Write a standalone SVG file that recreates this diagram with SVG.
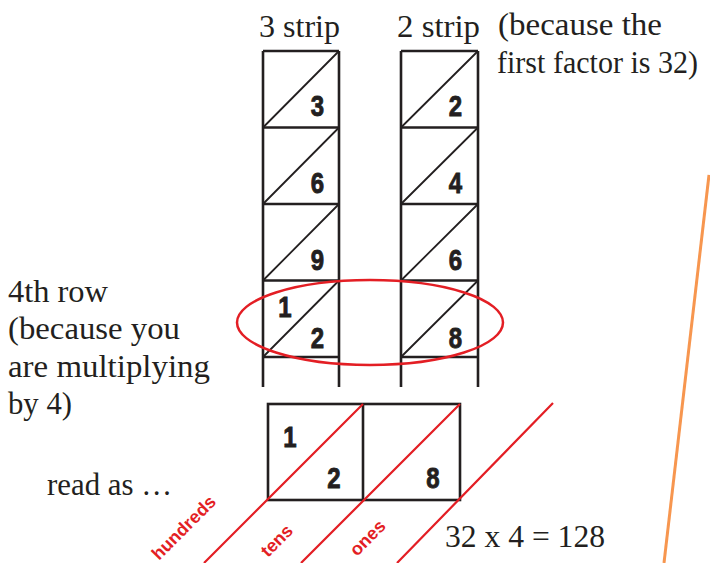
<svg xmlns="http://www.w3.org/2000/svg" width="710" height="563" viewBox="0 0 710 563">
<style>
.ser{font-family:"Liberation Serif","Times New Roman",serif;font-size:32px;fill:#231f20}
.dig{font-family:"Liberation Sans",Arial,sans-serif;font-weight:bold;font-size:30px;fill:#231f20;stroke:#231f20;stroke-width:0.9;text-anchor:middle}
.box{fill:none;stroke:#231f20;stroke-width:2.6}
.diag{stroke:#231f20;stroke-width:1.8;fill:none}
.red{stroke:#e31e24;stroke-width:2.2;fill:none}
.lab{font-family:"Liberation Sans",Arial,sans-serif;font-weight:bold;font-size:18px;fill:#e31e24}
</style>
<rect width="710" height="563" fill="#fff"/>
<g id="labels-top">
<text class="ser" x="259" y="37" textLength="81" lengthAdjust="spacingAndGlyphs">3 strip</text>
<text class="ser" x="397" y="37" textLength="83" lengthAdjust="spacingAndGlyphs">2 strip</text>
<text class="ser" x="498" y="35" textLength="164" lengthAdjust="spacingAndGlyphs">(because the</text>
<text class="ser" x="497" y="73" textLength="201" lengthAdjust="spacingAndGlyphs">first factor is 32)</text>
</g>
<g id="strip3">
<path class="box" d="M263,51V387M339,51V387M263,51H339M263,127.5H339M263,204H339M263,280.5H339M263,357H339"/>
<path class="diag" d="M263,127.5L339,51M263,204L339,127.5M263,280.5L339,204M263,357L339,280.5"/>
<g transform="translate(317.5,0) scale(0.8,1)"><text class="dig" x="0" y="116">3</text><text class="dig" x="0" y="193">6</text><text class="dig" x="0" y="270">9</text><text class="dig" x="0" y="348">2</text></g>
<g transform="translate(285,0) scale(0.8,1)"><text class="dig" x="0" y="317">1</text></g>
</g>
<g id="strip2">
<path class="box" d="M401,51V387M478,51V387M401,51H478M401,127.5H478M401,204H478M401,280.5H478M401,357H478"/>
<path class="diag" d="M401,127.5L478,51M401,204L478,127.5M401,280.5L478,204M401,357L478,280.5"/>
<g transform="translate(455.5,0) scale(0.8,1)"><text class="dig" x="0" y="116">2</text><text class="dig" x="0" y="193">4</text><text class="dig" x="0" y="270">6</text><text class="dig" x="0" y="348">8</text></g>
</g>
<g id="highlight">
<ellipse cx="370" cy="322.5" rx="133" ry="42.5" fill="none" stroke="#e31e24" stroke-width="2.5"/>
</g>
<g id="left-note">
<text class="ser" x="8" y="302" textLength="100" lengthAdjust="spacingAndGlyphs">4th row</text>
<text class="ser" x="8" y="339" textLength="172" lengthAdjust="spacingAndGlyphs">(because you</text>
<text class="ser" x="8" y="377" textLength="202" lengthAdjust="spacingAndGlyphs">are multiplying</text>
<text class="ser" x="8" y="414" textLength="64" lengthAdjust="spacingAndGlyphs">by 4)</text>
<text class="ser" x="47" y="495" textLength="125" lengthAdjust="spacingAndGlyphs">read as …</text>
</g>
<g id="result">
<rect class="box" x="268" y="404" width="192" height="96"/>
<path class="box" d="M363,404V500"/>
<g transform="translate(290,0) scale(0.8,1)"><text class="dig" x="0" y="447">1</text></g>
<g transform="translate(334,0) scale(0.8,1)"><text class="dig" x="0" y="488">2</text></g>
<g transform="translate(433,0) scale(0.8,1)"><text class="dig" x="0" y="488">8</text></g>
</g>
<g id="connectors">
<path class="red" d="M363,404L204,563M460,404L301,563M553,403L397,563"/>
<path d="M709,175L664,563" stroke="#f7964f" stroke-width="3" fill="none"/>
</g>
<g id="place-labels">
<text class="lab" transform="translate(159,561) rotate(-45)">hundreds</text>
<text class="lab" transform="translate(268,558) rotate(-45)">tens</text>
<text class="lab" transform="translate(357,557) rotate(-45)">ones</text>
</g>
<text class="ser" x="445" y="547" textLength="160" lengthAdjust="spacingAndGlyphs">32 x 4 = 128</text>
</svg>
